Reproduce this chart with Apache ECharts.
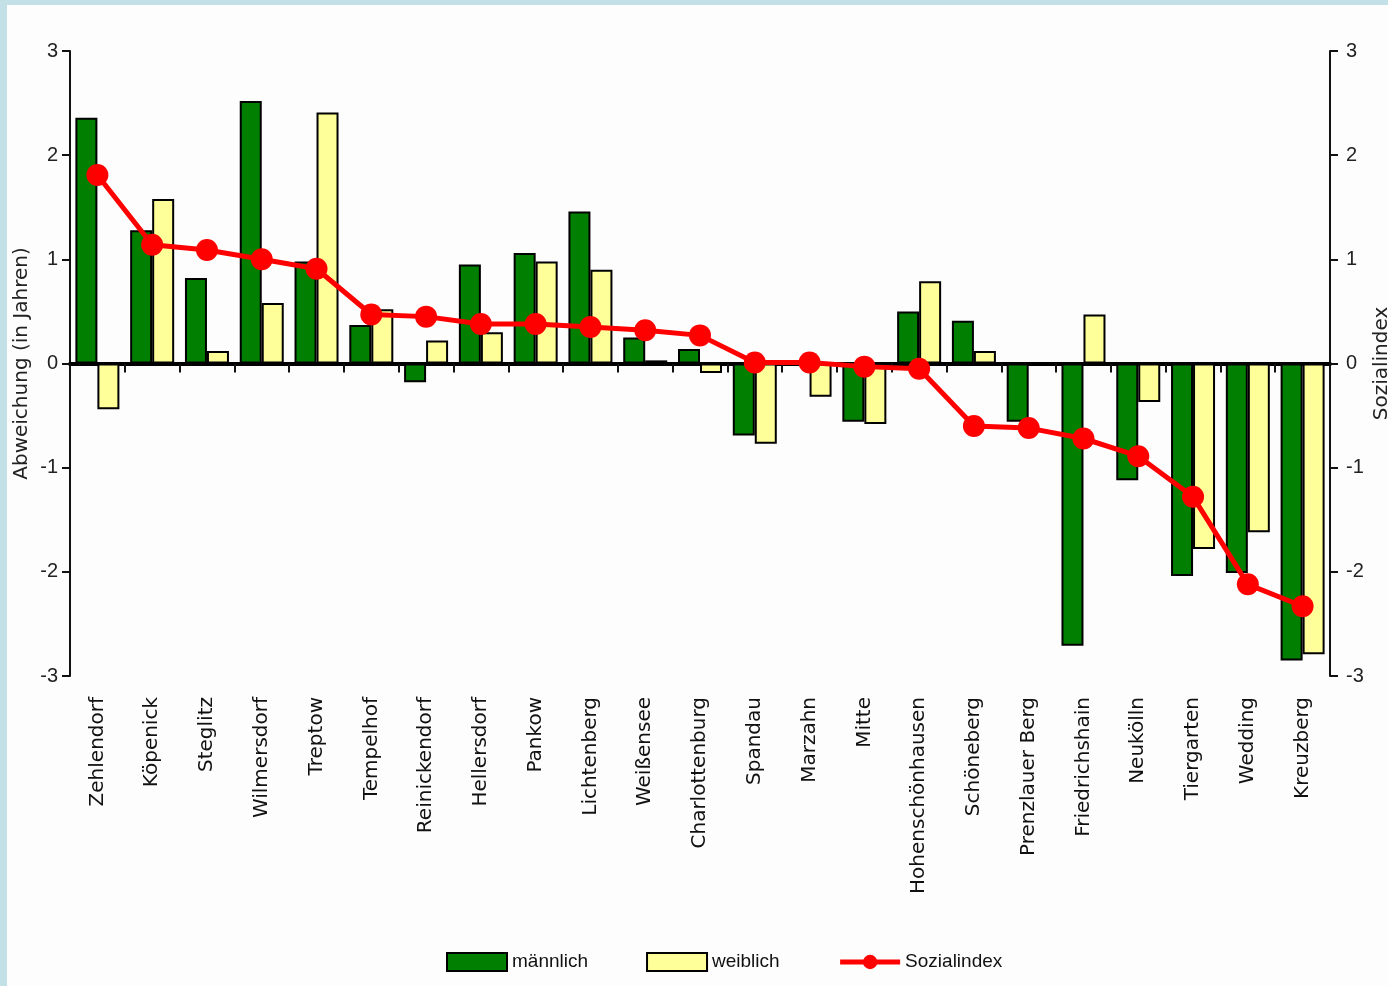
<!DOCTYPE html>
<html>
<head>
<meta charset="utf-8">
<script src="https://cdn.jsdelivr.net/npm/echarts@6/dist/echarts.min.js"></script>
<style>
  html, body { margin: 0; padding: 0; background: #c3e0e6; }
  #chart { position: absolute; left: 7px; top: 5px; width: 1381px; height: 981px; background: #fdfdfd; }
</style>
</head>
<body>
<div id="chart"></div>
<script>
// Bezirke, sortiert nach Sozialindex
const districts = [
  "Zehlendorf", "Köpenick", "Steglitz", "Wilmersdorf", "Treptow", "Tempelhof",
  "Reinickendorf", "Hellersdorf", "Pankow", "Lichtenberg", "Weißensee", "Charlottenburg",
  "Spandau", "Marzahn", "Mitte", "Hohenschönhausen", "Schöneberg", "Prenzlauer Berg",
  "Friedrichshain", "Neukölln", "Tiergarten", "Wedding", "Kreuzberg"
];
// Abweichung der Lebenserwartung (in Jahren)
const maennlich = [
  2.36, 1.28, 0.82, 2.52, 0.98, 0.37, -0.18, 0.95, 1.06, 1.46, 0.25, 0.14,
  -0.69, -0.01, -0.56, 0.50, 0.41, -0.56, -2.71, -1.12, -2.04, -2.01, -2.85
];
const weiblich = [
  -0.44, 1.58, 0.12, 0.58, 2.41, 0.52, 0.22, 0.30, 0.98, 0.90, 0.03, -0.09,
  -0.77, -0.32, -0.58, 0.79, 0.12, -0.02, 0.47, -0.37, -1.78, -1.62, -2.79
];
const sozialindex = [
  1.81, 1.14, 1.09, 1.00, 0.91, 0.47, 0.45, 0.38, 0.38, 0.35, 0.32, 0.27,
  0.01, 0.01, -0.03, -0.05, -0.60, -0.62, -0.72, -0.89, -1.28, -2.12, -2.33
];

const FONT = "Liberation Sans, Arial, sans-serif";
const chart = echarts.init(document.getElementById("chart"));

const valueAxis = (side, name, gap) => ({
  type: "value",
  position: side,
  min: -3, max: 3, interval: 1,
  name: name,
  nameLocation: "middle",
  nameGap: gap,
  nameRotate: 90,
  nameMoveOverlap: false,
  nameTextStyle: { color: "#222", fontSize: 20, fontFamily: "DejaVu Sans" },
  axisLine: { show: true, onZero: false, lineStyle: { color: "#111", width: 2 } },
  axisTick: { show: true, length: 8, lineStyle: { color: "#111", width: 2 } },
  axisLabel: { color: "#222", fontSize: 20, fontFamily: FONT, margin: side === "left" ? 12 : 16 },
  splitLine: { show: false }
});

chart.setOption({
  animation: false,
  backgroundColor: "#fdfdfd",
  grid: { left: 63, right: 58, top: 46, bottom: 310, containLabel: false, outerBoundsMode: "none" },
  legend: {
    left: 434, top: 942,
    itemWidth: 60, itemHeight: 18, itemGap: 58,
    textStyle: { color: "#111", fontSize: 19, fontFamily: FONT },
    data: [
      { name: "männlich", icon: "rect" },
      { name: "weiblich", icon: "rect" },
      { name: "Sozialindex", lineStyle: { width: 5 } }
    ]
  },
  xAxis: [
    {
      type: "category",
      data: districts,
      position: "bottom",
      axisLine: { show: false, onZero: false },
      axisTick: { show: false },
      axisLabel: {
        rotate: 90, interval: 0, margin: 21,
        color: "#111", fontSize: 20, fontFamily: "DejaVu Sans"
      }
    },
    {
      type: "category",
      data: districts,
      position: "bottom",
      axisLine: { show: true, onZero: true, lineStyle: { color: "#000", width: 4 } },
      axisTick: { show: true, interval: 0, length: 9, lineStyle: { color: "#111", width: 2 } },
      axisLabel: { show: false }
    }
  ],
  yAxis: [
    valueAxis("left", "Abweichung (in Jahren)", 38),
    valueAxis("right", "Sozialindex", 42)
  ],
  series: [
    {
      name: "männlich",
      type: "bar",
      data: maennlich,
      barWidth: 22,
      barGap: "0%",
      itemStyle: { color: "#007f00", borderColor: "#000", borderWidth: 2 }
    },
    {
      name: "weiblich",
      type: "bar",
      data: weiblich,
      barWidth: 22,
      barGap: "0%",
      itemStyle: { color: "#ffff99", borderColor: "#000", borderWidth: 2 }
    },
    {
      name: "Sozialindex",
      type: "line",
      yAxisIndex: 1,
      data: sozialindex,
      symbol: "circle",
      symbolSize: 22,
      z: 5,
      lineStyle: { color: "#ff0000", width: 5 },
      itemStyle: { color: "#ff0000" }
    }
  ]
});
</script>
</body>
</html>
